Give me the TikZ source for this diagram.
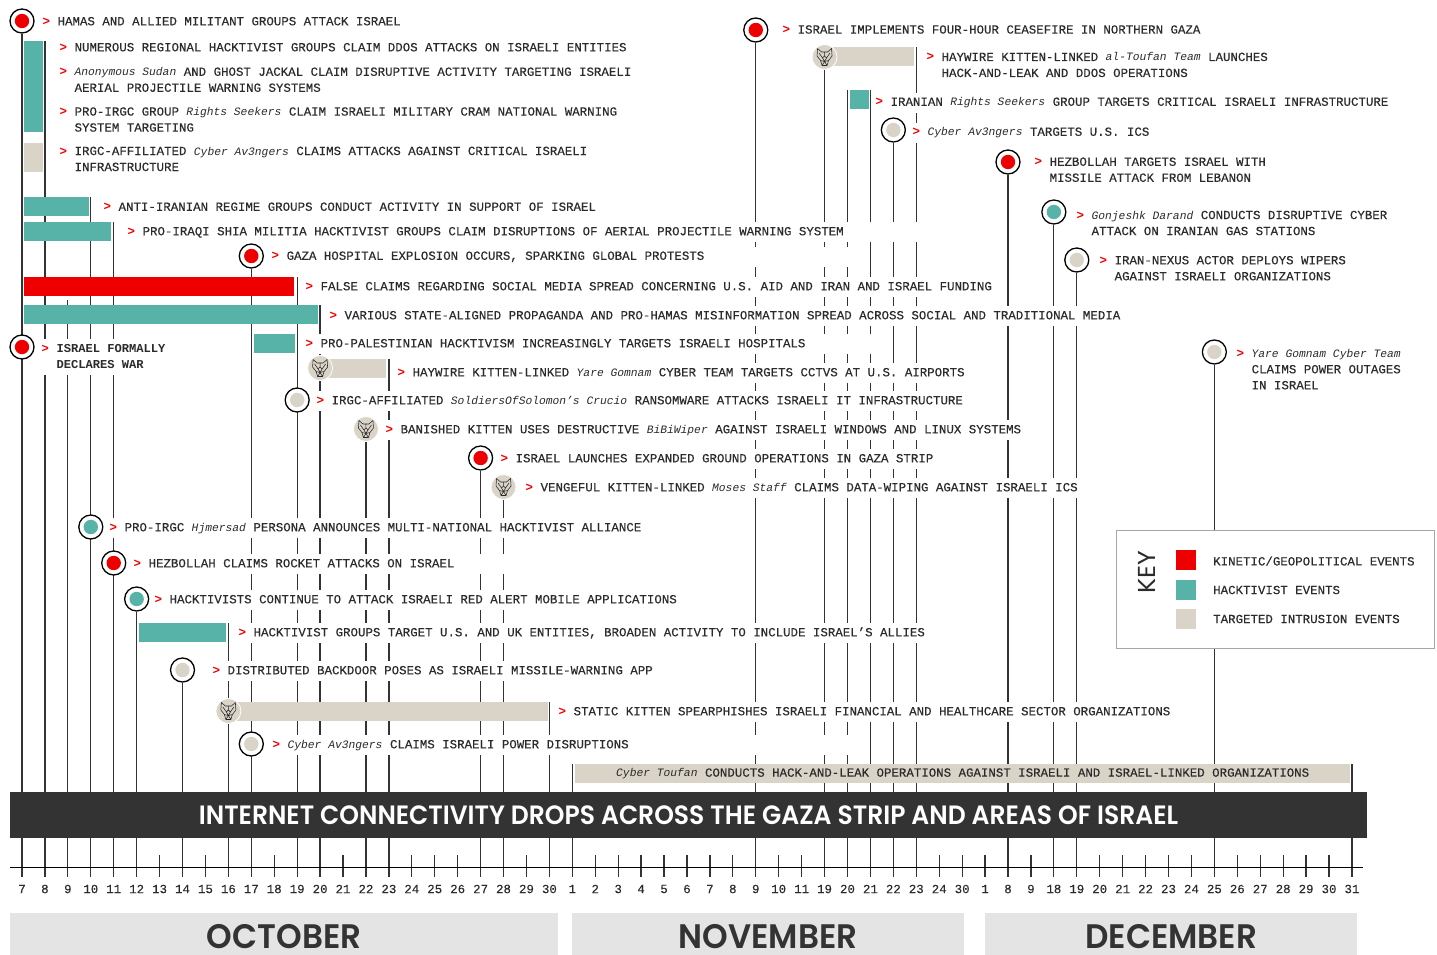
\documentclass[tikz,border=0pt]{standalone}
\usepackage{fontspec}
\setmainfont{Liberation Mono}[UprightFeatures={FakeBold=0.22}]
\newfontfamily\headfont{Poppins}[BoldFont={Poppins SemiBold},FakeStretch=0.945]
\newfontfamily\monthfont{Poppins}[BoldFont={Poppins SemiBold},FakeStretch=0.96]
\newfontfamily\keyfont{Poppins}[FakeStretch=1.03]
\pgfdeclarelayer{stems}
\pgfsetlayers{stems,main}
\definecolor{evred}{HTML}{EE0000}
\definecolor{evteal}{HTML}{57B2A7}
\definecolor{evtan}{HTML}{DAD4C8}
\definecolor{evdark}{HTML}{333333}
\definecolor{evink}{HTML}{2B2B2B}
\newcommand{\ar}{\makebox[14.9pt][l]{\rule[-3pt]{0pt}{12pt}\textcolor{evred}{\bfseries >}}}
\newcommand{\ind}{\hspace*{14.9pt}\rule[-3pt]{0pt}{12pt}}
\newcommand{\nm}[1]{{\fontsize{11.3}{16}\selectfont\itshape #1}}
\tikzset{
	evtxt/.style={anchor=west, xshift=-1.5pt, yshift=-0.3pt, fill=white, align=flush left, inner xsep=1pt, inner ysep=2.5pt, minimum height=20pt, text=evink, font=\fontsize{12.43}{16}\selectfont},
	daylab/.style={text=evink, inner sep=0pt, font=\fontsize{12.43}{16}\selectfont},
	keylab/.style={anchor=west, text=evink, inner sep=0pt, font=\fontsize{12.43}{16}\selectfont},
	stem/.style={draw=evdark, line width=1.25pt},
	ring/.style={circle, draw=black, line width=1.3pt, fill=white, minimum size=24pt, inner sep=0pt, path picture={\fill[#1] (path picture bounding box.center) circle (7.2pt);}},
	evbar/.style={anchor=north west, fill=#1, inner sep=0pt, minimum height=19pt},
	keybox/.style={anchor=north west, fill=#1, inner sep=0pt, minimum size=20pt},
	month/.style={anchor=north west, fill=black!10.5, inner sep=0pt, minimum height=42pt},
	monthtxt/.style={inner sep=0pt, yshift=-2pt, text=evdark, font=\monthfont\bfseries\fontsize{34}{36}\selectfont},
	kitten/.style={circle, fill=evtan, draw=white, line width=0.8pt, minimum size=25pt, inner sep=0pt, path picture={
		\draw[black!85, line width=0.55pt, shift={(path picture bounding box.center)}]
			(-7,-8.5) -- (-7.5,-1) -- (-4,3.5) -- (-2.5,8.5) -- (2.5,8.5) -- (4,3.5) -- (7.5,-1) -- (7,-8.5) -- (3,-5) -- (-3,-5) -- cycle
			(-5.5,-4) -- (-2,1) -- (0,-1) -- (2,1) -- (5.5,-4)
			(-2,1) -- (0,4.5) -- (2,1)
			(0,-5) -- (0,-1)
			(-4,3.5) -- (0,4.5) -- (4,3.5)
			(-2.5,8.5) -- (0,4.5) -- (2.5,8.5);
	}}
}
\begin{document}
\begin{tikzpicture}[x=1pt, y=-1pt]
	\useasboundingbox (0,0) rectangle (1437,955);

	\foreach \lab [count=\n from 0] in {7,8,9,10,11,12,13,14,15,16,17,18,19,20,21,22,23,24,25,26,27,28,29,30,1,2,3,4,5,6,7,8,9,10,11,19,20,21,22,23,24,30,1,8,9,18,19,20,21,22,23,24,25,26,27,28,29,30,31} {
		\pgfmathsetmacro{\tx}{22+22.93*\n}
		\coordinate (u\n) at (\tx,855);
		\coordinate (t\n) at (\tx,877);
		\node[daylab] (d\n) at (\tx,889) {\lab};
		\draw[stem] (u\n) -- (t\n);
	}
	\coordinate (axl) at (10,867);
	\coordinate (axr) at (1363,867);
	\draw[black, line width=1pt] (axl) -- (axr);

	\node[evtxt] (tx-hamas) at (43,22) {\ar HAMAS AND ALLIED MILITANT GROUPS ATTACK ISRAEL};
	\node[evtxt] (tx-ddos) at (60,48) {\ar NUMEROUS REGIONAL HACKTIVIST GROUPS CLAIM DDOS ATTACKS ON ISRAELI ENTITIES};
	\node[evtxt] (tx-sudan) at (60,80.5) {\ar\nm{Anonymous Sudan} AND GHOST JACKAL CLAIM DISRUPTIVE ACTIVITY TARGETING ISRAELI\\\ind AERIAL PROJECTILE WARNING SYSTEMS};
	\node[evtxt] (tx-seek) at (60,120.3) {\ar PRO-IRGC GROUP \nm{Rights Seekers} CLAIM ISRAELI MILITARY CRAM NATIONAL WARNING\\\ind SYSTEM TARGETING};
	\node[evtxt] (tx-av) at (60,159.7) {\ar IRGC-AFFILIATED \nm{Cyber Av3ngers} CLAIMS ATTACKS AGAINST CRITICAL ISRAELI\\\ind INFRASTRUCTURE};
	\node[evtxt] (tx-anti) at (104,207.5) {\ar ANTI-IRANIAN REGIME GROUPS CONDUCT ACTIVITY IN SUPPORT OF ISRAEL};
	\node[evtxt, text width=796pt] (tx-iraqi) at (128,232) {\ar PRO-IRAQI SHIA MILITIA HACKTIVIST GROUPS CLAIM DISRUPTIONS OF AERIAL PROJECTILE WARNING SYSTEM};
	\node[evtxt, text width=575pt] (tx-gaza) at (272,256.5) {\ar GAZA HOSPITAL EXPLOSION OCCURS, SPARKING GLOBAL PROTESTS};
	\node[evtxt] (tx-false) at (306,287) {\ar FALSE CLAIMS REGARDING SOCIAL MEDIA SPREAD CONCERNING U.S. AID AND IRAN AND ISRAEL FUNDING};
	\node[evtxt] (tx-prop) at (330,316) {\ar VARIOUS STATE-ALIGNED PROPAGANDA AND PRO-HAMAS MISINFORMATION SPREAD ACROSS SOCIAL AND TRADITIONAL MEDIA};
	\node[evtxt, text width=573pt] (tx-pal) at (306,344) {\ar PRO-PALESTINIAN HACKTIVISM INCREASINGLY TARGETS ISRAELI HOSPITALS};
	\node[evtxt, inner ysep=4pt, font=\bfseries\fontsize{12.1}{16}\selectfont] (tx-war) at (42,357) {\ar ISRAEL FORMALLY\\\ind DECLARES WAR};
	\node[evtxt] (tx-yare) at (398,373) {\ar HAYWIRE KITTEN-LINKED \nm{Yare Gomnam} CYBER TEAM TARGETS CCTVS AT U.S. AIRPORTS};
	\node[evtxt] (tx-crucio) at (317,401) {\ar IRGC-AFFILIATED \nm{SoldiersOfSolomon’s Crucio} RANSOMWARE ATTACKS ISRAELI IT INFRASTRUCTURE};
	\node[evtxt] (tx-bibi) at (386,430) {\ar BANISHED KITTEN USES DESTRUCTIVE \nm{BiBiWiper} AGAINST ISRAELI WINDOWS AND LINUX SYSTEMS};
	\node[evtxt] (tx-ground) at (501,459) {\ar ISRAEL LAUNCHES EXPANDED GROUND OPERATIONS IN GAZA STRIP};
	\node[evtxt] (tx-moses) at (526,488) {\ar VENGEFUL KITTEN-LINKED \nm{Moses Staff} CLAIMS DATA-WIPING AGAINST ISRAELI ICS};
	\node[evtxt] (tx-hjm) at (110,528) {\ar PRO-IRGC \nm{Hjmersad} PERSONA ANNOUNCES MULTI-NATIONAL HACKTIVIST ALLIANCE};
	\node[evtxt, text width=385pt] (tx-rocket) at (134,564) {\ar HEZBOLLAH CLAIMS ROCKET ATTACKS ON ISRAEL};
	\node[evtxt] (tx-alert) at (155,600) {\ar HACKTIVISTS CONTINUE TO ATTACK ISRAELI RED ALERT MOBILE APPLICATIONS};
	\node[evtxt] (tx-allies) at (239,633) {\ar HACKTIVIST GROUPS TARGET U.S. AND UK ENTITIES, BROADEN ACTIVITY TO INCLUDE ISRAEL’S ALLIES};
	\node[evtxt] (tx-app) at (213,671) {\ar DISTRIBUTED BACKDOOR POSES AS ISRAELI MISSILE-WARNING APP};
	\node[evtxt] (tx-static) at (559,712) {\ar STATIC KITTEN SPEARPHISHES ISRAELI FINANCIAL AND HEALTHCARE SECTOR ORGANIZATIONS};
	\node[evtxt, text width=586pt] (tx-power) at (273,745) {\ar\nm{Cyber Av3ngers} CLAIMS ISRAELI POWER DISRUPTIONS};
	\node[evtxt] (tx-cease) at (783,30.3) {\ar ISRAEL IMPLEMENTS FOUR-HOUR CEASEFIRE IN NORTHERN GAZA};
	\node[evtxt] (tx-alt) at (927,65.7) {\ar HAYWIRE KITTEN-LINKED \nm{al-Toufan Team} LAUNCHES\\\ind HACK-AND-LEAK AND DDOS OPERATIONS};
	\node[evtxt] (tx-infra) at (876,102.5) {\ar IRANIAN \nm{Rights Seekers} GROUP TARGETS CRITICAL ISRAELI INFRASTRUCTURE};
	\node[evtxt] (tx-ics) at (913,132.5) {\ar\nm{Cyber Av3ngers} TARGETS U.S. ICS};
	\node[evtxt] (tx-leb) at (1035,170.5) {\ar HEZBOLLAH TARGETS ISRAEL WITH\\\ind MISSILE ATTACK FROM LEBANON};
	\node[evtxt] (tx-gas) at (1077,223.8) {\ar\nm{Gonjeshk Darand} CONDUCTS DISRUPTIVE CYBER\\\ind ATTACK ON IRANIAN GAS STATIONS};
	\node[evtxt] (tx-wiper) at (1100,269) {\ar IRAN-NEXUS ACTOR DEPLOYS WIPERS\\\ind AGAINST ISRAELI ORGANIZATIONS};
	\node[evtxt] (tx-outage) at (1237,370) {\ar\nm{Yare Gomnam Cyber Team}\\\ind CLAIMS POWER OUTAGES\\\ind IN ISRAEL};

	\node[evbar=evteal, minimum width=19pt, minimum height=91pt] (b-ddos) at (24,41) {};
	\node[evbar=evtan, minimum width=19pt, minimum height=29pt] (b-av) at (24,143) {};
	\node[evbar=evteal, minimum width=65pt] (b-anti) at (24,197) {};
	\node[evbar=evteal, minimum width=87pt] (b-iraqi) at (24,222) {};
	\node[evbar=evred, minimum width=270pt] (b-false) at (24,277) {};
	\node[evbar=evteal, minimum width=294pt] (b-prop) at (24,305) {};
	\node[evbar=evteal, minimum width=41pt] (b-pal) at (254,334) {};
	\node[evbar=evtan, minimum width=65pt] (b-yare) at (321,359) {};
	\node[evbar=evteal, minimum width=87pt] (b-allies) at (139,623) {};
	\node[evbar=evtan, minimum width=320pt] (b-static) at (228,702) {};
	\node[evbar=evtan, minimum width=775pt, text=evink, font=\fontsize{12.43}{16}\selectfont] (b-toufan) at (575,764) {\nm{Cyber Toufan} CONDUCTS HACK-AND-LEAK OPERATIONS AGAINST ISRAELI AND ISRAEL-LINKED ORGANIZATIONS};
	\node[evbar=evtan, minimum width=89pt] (b-alt) at (825,47) {};
	\node[evbar=evteal, minimum width=19pt] (b-infra) at (850,90) {};

	\node[ring=evred] (hamas) at (t0 |- 0,21) {};
	\node[ring=evred] (war) at (t0 |- 0,347) {};
	\node[ring=evred] (gaza) at (t10 |- 0,256) {};
	\node[ring=evtan] (crucio) at (t12 |- 0,400) {};
	\node[ring=evred] (ground) at (t20 |- 0,458) {};
	\node[ring=evteal] (hjm) at (t3 |- 0,527) {};
	\node[ring=evred] (rocket) at (t4 |- 0,563) {};
	\node[ring=evteal] (alert) at (t5 |- 0,599) {};
	\node[ring=evtan] (app) at (t7 |- 0,670) {};
	\node[ring=evtan] (power) at (t10 |- 0,744) {};
	\node[ring=evred] (cease) at (t32 |- 0,30) {};
	\node[ring=evtan] (ics) at (t38 |- 0,130) {};
	\node[ring=evred] (leb) at (t43 |- 0,162) {};
	\node[ring=evteal] (gas) at (t45 |- 0,212) {};
	\node[ring=evtan] (wiper) at (t46 |- 0,260) {};
	\node[ring=evtan] (outage) at (t52 |- 0,352) {};
	\node[kitten] (yare) at (t13 |- 0,368) {};
	\node[kitten] (bibi) at (t15 |- 0,429) {};
	\node[kitten] (moses) at (t21 |- 0,487) {};
	\node[kitten] (static) at (t9 |- 0,711) {};
	\node[kitten] (alt) at (t35 |- 0,57) {};

	\coordinate (nine) at (t2 |- 0,300);

	\begin{pgfonlayer}{stems}
		\foreach \ev/\tk in {hamas/0,gaza/10,crucio/12,ground/20,hjm/3,rocket/4,alert/5,app/7,cease/32,ics/38,leb/43,gas/45,wiper/46,outage/52,yare/13,bibi/15,moses/21,alt/35,nine/2}
			\draw[stem] (\ev) -- (t\tk);
		\foreach \ev/\tk in {b-ddos/1,b-anti/3,b-iraqi/4,b-false/12,b-prop/13,b-yare/16,b-allies/9,b-static/23,b-toufan/24,b-toufan/58,b-alt/39,b-infra/36,b-infra/37}
			\draw[stem] (t\tk |- \ev.north) -- (t\tk);
	\end{pgfonlayer}

	\node[anchor=north west, fill=evdark, inner sep=0pt, minimum width=1357pt, minimum height=46pt] (netbar) at (10,792) {};
	\node[text=white, inner sep=0pt, font=\headfont\bfseries\fontsize{26.5}{30}\selectfont] (nettxt) at (688.5,815.5) {INTERNET CONNECTIVITY DROPS ACROSS THE GAZA STRIP AND AREAS OF ISRAEL};

	\node[month, minimum width=548pt] (m-oct) at (10,913) {};
	\node[month, minimum width=392pt] (m-nov) at (572,913) {};
	\node[month, minimum width=372pt] (m-dec) at (985,913) {};
	\node[monthtxt] (t-oct) at (m-oct) {OCTOBER};
	\node[monthtxt] (t-nov) at (m-nov) {NOVEMBER};
	\node[monthtxt] (t-dec) at (m-dec) {DECEMBER};

	\node[anchor=north west, draw=black!35, line width=1.2pt, fill=white, minimum width=318pt, minimum height=118pt, inner sep=0pt] (legend) at (1116,530) {};
	\node[rotate=90, text=evink, inner sep=0pt, font=\keyfont\fontsize{24.5}{26}\selectfont] (keyword) at (1147,572) {KEY};
	\node[keybox=evred] (k-red) at (1176,550) {};
	\node[keybox=evteal] (k-teal) at (1176,580) {};
	\node[keybox=evtan] (k-tan) at (1176,609) {};
	\node[keylab] (kl-red) at (1213,561) {KINETIC/GEOPOLITICAL EVENTS};
	\node[keylab] (kl-teal) at (1213,590) {HACKTIVIST EVENTS};
	\node[keylab] (kl-tan) at (1213,619) {TARGETED INTRUSION EVENTS};
\end{tikzpicture}
\end{document}
